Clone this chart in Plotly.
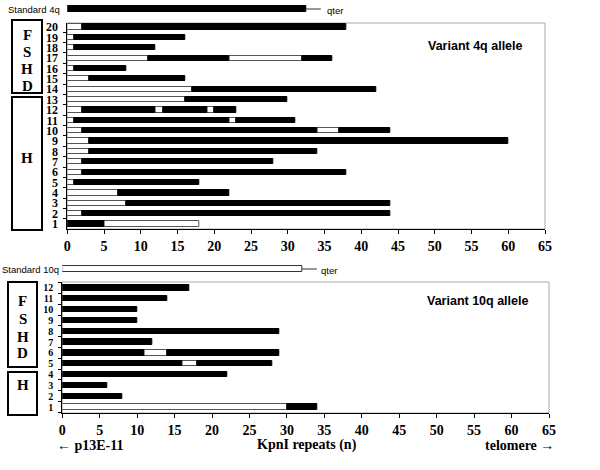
import plotly.graph_objects as go

# ---------------- data ----------------
rows_4q = list(range(1, 21))
rows_10q = list(range(1, 13))
x_ticks = list(range(0, 70, 5))

# (row, start, end) in KpnI repeats
white_4q = [(1, 5, 18), (2, 0, 2), (3, 0, 8), (4, 0, 7), (5, 0, 1), (6, 0, 2), (7, 0, 2),
            (8, 0, 3), (9, 0, 3), (10, 0, 2), (10, 34, 37), (11, 0, 1), (11, 22, 23),
            (12, 0, 2), (12, 12, 13), (12, 19, 20), (13, 0, 16), (14, 0, 17), (15, 0, 3),
            (16, 0, 1), (17, 0, 11), (17, 22, 32), (18, 0, 1), (19, 0, 1), (20, 0, 2)]
black_4q = [(1, 0, 5), (2, 2, 44), (3, 8, 44), (4, 7, 22), (5, 1, 18), (6, 2, 38), (7, 2, 28),
            (8, 3, 34), (9, 3, 60), (10, 2, 34), (10, 37, 44), (11, 1, 22), (11, 23, 31),
            (12, 2, 12), (12, 13, 19), (12, 20, 23), (13, 16, 30), (14, 17, 42), (15, 3, 16),
            (16, 1, 8), (17, 11, 22), (17, 32, 36), (18, 1, 12), (19, 1, 16), (20, 2, 38)]
white_10q = [(1, 0, 30), (5, 16, 18), (6, 11, 14)]
black_10q = [(1, 30, 34), (2, 0, 8), (3, 0, 6), (4, 0, 22), (5, 0, 16), (5, 18, 28),
             (6, 0, 11), (6, 14, 29), (7, 0, 12), (8, 0, 29), (9, 0, 10), (10, 0, 10),
             (11, 0, 14), (12, 0, 17)]
standard_4q = 32.5
standard_10q = 32
qter_4q = 34.5
qter_10q = 34

# ---------------- figure ----------------
W, H = 600, 470
def px(x):
    return x / W
def py(y):
    return 1 - y / H

SERIF = "Liberation Serif"
SANS = "Liberation Sans"

fig = go.Figure()

def seg_trace(segs, color, line_color, width, xa, ya):
    return go.Bar(
        orientation="h",
        y=[s[0] for s in segs],
        base=[s[1] for s in segs],
        x=[s[2] - s[1] for s in segs],
        width=width,
        marker=dict(color=color, line=dict(color=line_color, width=1)),
        xaxis=xa, yaxis=ya, showlegend=False, hoverinfo="skip",
    )

fig.add_trace(seg_trace(white_4q, "white", "#555555", 0.5, "x", "y"))
fig.add_trace(seg_trace(black_4q, "black", "black", 0.5, "x", "y"))
fig.add_trace(seg_trace(white_10q, "white", "#555555", 0.48, "x2", "y2"))
fig.add_trace(seg_trace(black_10q, "black", "black", 0.48, "x2", "y2"))

# standard alleles
fig.add_trace(go.Bar(orientation="h", y=[0], base=[0], x=[standard_4q], width=0.7,
                     marker=dict(color="black", line=dict(color="black", width=1)),
                     xaxis="x3", yaxis="y3", showlegend=False, hoverinfo="skip"))
fig.add_trace(go.Scatter(x=[standard_4q, qter_4q], y=[0, 0], mode="lines",
                         line=dict(color="#333333", width=1), xaxis="x3", yaxis="y3",
                         showlegend=False, hoverinfo="skip"))
fig.add_trace(go.Bar(orientation="h", y=[0], base=[0], x=[standard_10q], width=0.65,
                     marker=dict(color="white", line=dict(color="#333333", width=1)),
                     xaxis="x4", yaxis="y4", showlegend=False, hoverinfo="skip"))
fig.add_trace(go.Scatter(x=[standard_10q, qter_10q], y=[0, 0], mode="lines",
                         line=dict(color="#333333", width=1), xaxis="x4", yaxis="y4",
                         showlegend=False, hoverinfo="skip"))

tick_font = dict(family=SERIF, size=14, color="black", weight="bold")

x1_dom = [px(67.3), px(545)]
x2_dom = [px(62.3), px(549)]

xaxis_common = dict(range=[0, 65], tickvals=x_ticks, ticks="outside", ticklen=4,
                    tickcolor="black", showline=True, linecolor="black", linewidth=1,
                    showgrid=False, zeroline=False, tickfont=tick_font, fixedrange=True,
                    automargin=False)

layout = dict(
    width=W, height=H, margin=dict(l=0, r=0, t=0, b=0, pad=0, autoexpand=False),
    paper_bgcolor="white", plot_bgcolor="white", barmode="overlay", bargap=0,
    xaxis=dict(domain=x1_dom, anchor="y", **xaxis_common),
    yaxis=dict(domain=[py(229), py(23)], anchor="x", range=[0.52, 20.39],
               tickvals=rows_4q, ticks="", showline=True, linecolor="black", linewidth=1,
               showgrid=False, zeroline=False, automargin=False,
               tickfont=dict(family=SERIF, size=12, color="black", weight="bold"),
               minor=dict(ticks="outside", ticklen=3, tick0=0.5, dtick=1, tickcolor="black"),
               ticklabelstandoff=6),
    xaxis2=dict(domain=x2_dom, anchor="y2", **xaxis_common),
    yaxis2=dict(domain=[py(413), py(282)], anchor="x2", range=[0.45, 12.55],
                tickvals=rows_10q, ticks="", showline=True, linecolor="black", linewidth=1,
                showgrid=False, zeroline=False, automargin=False,
                tickfont=dict(family=SERIF, size=10, color="black", weight="bold"),
                minor=dict(ticks="outside", ticklen=3, tick0=0.5, dtick=1, tickcolor="black"),
                ticklabelstandoff=6),
    xaxis3=dict(domain=x1_dom, anchor="y3", range=[0, 65], visible=False, fixedrange=True,
                automargin=False),
    yaxis3=dict(domain=[py(18), py(0)], anchor="x3", range=[-1, 1], visible=False,
                automargin=False),
    xaxis4=dict(domain=x2_dom, anchor="y4", range=[0, 65], visible=False, fixedrange=True,
                automargin=False),
    yaxis4=dict(domain=[py(278), py(260)], anchor="x4", range=[-1, 1], visible=False,
                automargin=False),
)
fig.update_layout(**layout)

shapes = []
# grey frames of plot areas
for xr, yr in [("x domain", "y domain"), ("x2 domain", "y2 domain")]:
    shapes.append(dict(type="rect", xref=xr, yref=yr, x0=0, x1=1, y0=0, y1=1,
                       line=dict(color="#aaaaaa", width=1), layer="below"))
# group boxes
for x0, x1, y0, y1 in [(12, 42, 20, 93), (12, 42, 97, 230), (8, 37, 282, 367), (8, 37, 372, 415)]:
    shapes.append(dict(type="rect", xref="paper", yref="paper", x0=px(x0), x1=px(x1),
                       y0=py(y1), y1=py(y0), line=dict(color="black", width=2)))
fig.update_layout(shapes=shapes)

ann = []
def text(t, x, y, size, family=SERIF, bold=True, xanchor="center", yanchor="middle", xref="paper"):
    ann.append(dict(text=t, x=x if xref != "paper" else px(x), y=py(y), xref=xref, yref="paper",
                    showarrow=False, xanchor=xanchor, yanchor=yanchor,
                    font=dict(family=family, size=size, color="black",
                              weight="bold" if bold else "normal")))

for letter, yy in zip("FSHD", [35, 52, 69, 86]):
    text(letter, 27, yy, 15)
text("H", 27, 158, 15)
for letter, yy in zip("FSHD", [301, 319, 337, 353]):
    text(letter, 22.5, yy, 15)
text("H", 22.5, 385, 15)

text("Standard 4q", 62, 9.5, 9.5, family=SANS, bold=False, xanchor="right")
text("qter", 35.0, 10, 9.5, family=SANS, bold=False, xanchor="left", xref="x3")
text("Standard 10q", 60.5, 269.5, 9.5, family=SANS, bold=False, xanchor="right")
text("qter", 34.3, 270, 9.5, family=SANS, bold=False, xanchor="left", xref="x4")

text("Variant 4q allele", 475, 46, 12.5, family=SANS, xanchor="center")
text("Variant 10q allele", 477, 301, 12.5, family=SANS, xanchor="center")

text("\u2190 p13E-11", 55, 445, 14, xanchor="left")
text("KpnI repeats (n)", 307, 445, 14)
text("telomere \u2192", 556, 445, 14, xanchor="right")

fig.update_layout(annotations=ann)

# remove the default 8px page margin so the 600x470 figure fills the window exactly
fig.write_html("out.html", config={"displayModeBar": False},
               post_script="document.body.style.margin='0px';document.body.style.padding='0px';")
